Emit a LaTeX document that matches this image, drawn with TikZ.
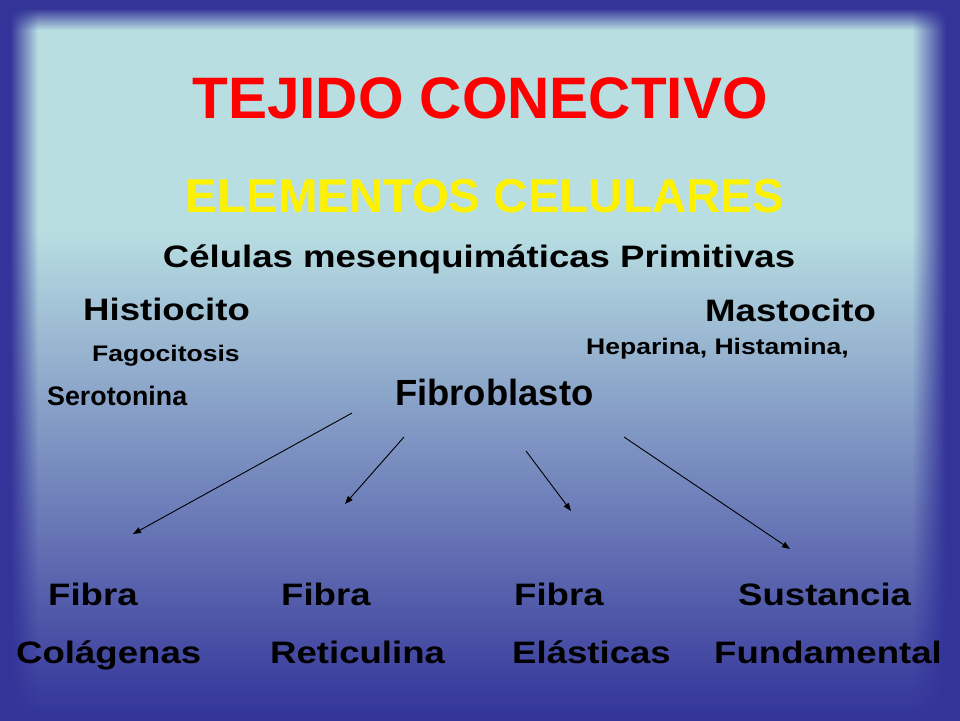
\documentclass[tikz,border=0pt]{standalone}
\usepackage{fontspec}
\setmainfont{Liberation Sans}
\newfontfamily\widefont[FakeStretch=1.18]{Liberation Sans}
\usetikzlibrary{%
		arrows.meta%
		,fadings%
	}
\definecolor{paleblue}{RGB}{184,222,226}
\definecolor{deepblue}{RGB}{51,51,153}

\begin{document}
\begin{tikzpicture}[x=1pt, y=-1pt,
			cellname/.style={font=\widefont\bfseries\fontsize{31}{31}\selectfont, anchor=base west, inner sep=0pt},
			cellrole/.style={font=\widefont\bfseries\fontsize{22.5}{22.5}\selectfont, anchor=base west, inner sep=0pt},
			link/.style={-{Triangle[length=8pt,width=6pt]}, line width=0.9pt}]
			\useasboundingbox (0,0) rectangle (960,720);
			
			% Background
			\fill[paleblue] (0,0) rectangle (960,720);
			\shade[top color=paleblue, bottom color=deepblue] (0,230) rectangle (960,720);
			
			% Frame
			\fill[deepblue] (0,0) rectangle (960,8);
			\fill[deepblue] (0,0) rectangle (10,720);
			\fill[deepblue] (946,0) rectangle (960,720);
			\fill[deepblue] (0,712) rectangle (960,720);
			\fill[deepblue, path fading=south] (10,8) rectangle (946,30);
			\fill[deepblue, path fading=east] (10,8) rectangle (38,712);
			\fill[deepblue, path fading=west] (912,8) rectangle (946,712);
			
			% Titles
			\node[text=red, font=\bfseries\fontsize{58.5}{60}\selectfont, anchor=base, inner sep=0pt] (title) at (480,118) {TEJIDO CONECTIVO};
			\node[text=yellow, font=\bfseries\fontsize{47.5}{48}\selectfont, anchor=base, inner sep=0pt] (elements) at (485,212) {ELEMENTOS CELULARES};
			\node[cellname, anchor=base] (primitive) at (479,267) {Células mesenquimáticas Primitivas};
			
			% Cells
			\node[cellname] (histio) at (83,320) {Histiocito};
			\node[cellname] (masto) at (705,321) {Mastocito};
			\node[cellrole] (phago) at (92,361) {Fagocitosis};
			\node[cellrole] (hepa) at (586,354) {Heparina, Histamina,};
			\node[font=\bfseries\fontsize{26.8}{27}\selectfont, anchor=base west, inner sep=0pt] (sero) at (47,405) {Serotonina};
			\node[font=\bfseries\fontsize{36.4}{37}\selectfont, anchor=base west, inner sep=0pt] (fibro) at (395,405) {Fibroblasto};
			
			% Fibres
			\node[cellname] (fib1) at (48,605) {Fibra};
			\node[cellname] (fib2) at (281,605) {Fibra};
			\node[cellname] (fib3) at (514,605) {Fibra};
			\node[cellname] (sust) at (738,605) {Sustancia};
			\node[cellname] (colla) at (16,663) {Colágenas};
			\node[cellname] (retic) at (270,663) {Reticulina};
			\node[cellname] (elast) at (512,663) {Elásticas};
			\node[cellname] (fund) at (714,663) {Fundamental};
			
			% Arrows
			\coordinate (from1) at (352,413);
			\coordinate (to1) at (133,534);
			\coordinate (from2) at (404,437);
			\coordinate (to2) at (345,504);
			\coordinate (from3) at (526,451);
			\coordinate (to3) at (571,511);
			\coordinate (from4) at (624,437);
			\coordinate (to4) at (790,549);
			\draw[link] (from1) -- (to1);
			\draw[link] (from2) -- (to2);
			\draw[link] (from3) -- (to3);
			\draw[link] (from4) -- (to4);
		\end{tikzpicture}
\end{document}
